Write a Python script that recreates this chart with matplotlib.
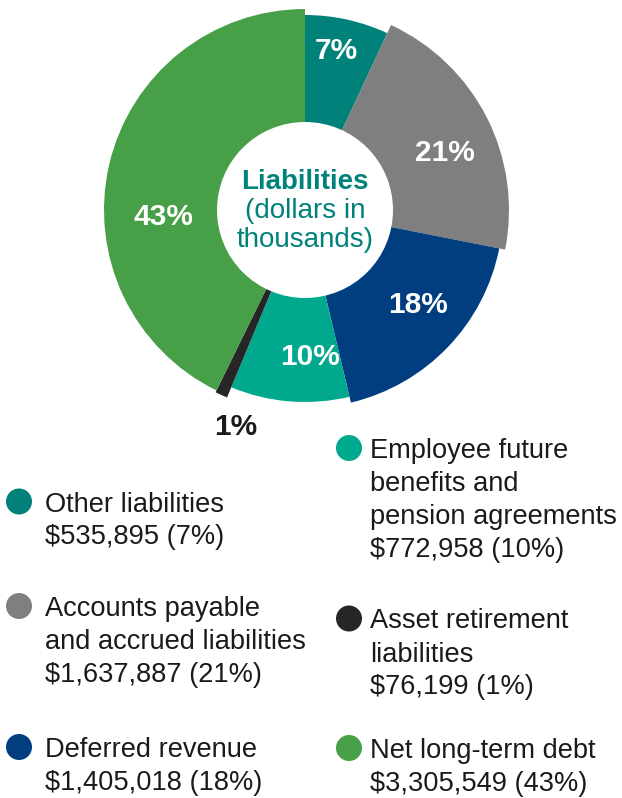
import math
import matplotlib
matplotlib.use("Agg")
import matplotlib.pyplot as plt
from matplotlib.patches import Wedge, Circle

# ---- data (dollars in thousands) ----
categories = [
    "Other liabilities",
    "Accounts payable and accrued liabilities",
    "Deferred revenue",
    "Employee future benefits and pension agreements",
    "Asset retirement liabilities",
    "Net long-term debt",
]
amounts = [535895, 1637887, 1405018, 772958, 76199, 3305549]

# legend text, split into display lines (the amount line is added below)
legend_lines = [
    ["Other liabilities"],
    ["Accounts payable", "and accrued liabilities"],
    ["Deferred revenue"],
    ["Employee future", "benefits and", "pension agreements"],
    ["Asset retirement", "liabilities"],
    ["Net long-term debt"],
]

# ---- style ----
colors = ["#00827A", "#7F7F7F", "#003E80", "#00A88D", "#262626", "#47A047"]
outer_r = [195, 204, 198, 192, 203, 201]        # each slice has its own reach
label_r = [162, 151, 148, 147, 228, 142]
label_shift = [-1.5, 4.8, -3.9, -6.6, -6.6, -15.9]
label_color = ["white", "white", "white", "white", "#1a1a1a", "white"]

W, H = 622, 798
cx, cy = 305, 210
hole_r = 88
font = "Liberation Sans"

fig = plt.figure(figsize=(W / 100, H / 100), dpi=100)
ax = fig.add_axes([0, 0, 1, 1])
ax.set_xlim(0, W)
ax.set_ylim(H, 0)
ax.set_aspect("equal")
ax.axis("off")

total = sum(amounts)
shares = [a / total for a in amounts]
pcts = [round(s * 100) for s in shares]

# slices run clockwise from 12 o'clock (y axis points down)
start = -90.0
for i, s in enumerate(shares):
    span = s * 360.0
    ax.add_patch(Wedge((cx, cy), outer_r[i], start, start + span,
                       facecolor=colors[i], edgecolor="none", zorder=2))
    ang = math.radians(start + span / 2 + label_shift[i])
    lx = cx + label_r[i] * math.cos(ang)
    ly = cy + label_r[i] * math.sin(ang)
    ax.text(lx, ly, f"{pcts[i]}%", color=label_color[i], fontsize=21.5,
            fontweight="bold", family=font,
            ha="center", va="center", zorder=4)
    start += span

ax.add_patch(Circle((cx, cy), hole_r, facecolor="white", edgecolor="none", zorder=3))

center_col = "#00827A"
ax.text(cx, 189, "Liabilities", color=center_col, fontsize=20, fontweight="bold",
        family=font, ha="center", va="baseline", zorder=4)
ax.text(cx, 218, "(dollars in", color=center_col, fontsize=20,
        family=font, ha="center", va="baseline", zorder=4)
ax.text(cx, 247, "thousands)", color=center_col, fontsize=20,
        family=font, ha="center", va="baseline", zorder=4)

# ---- legend: two columns, three entries each ----
col_marker_x = [19, 349]
col_text_x = [45, 370]
first_baselines = [511.5, 616, 757, 458, 628.5, 758]
line_gap = 33

for i in range(len(categories)):
    col = 0 if i < 3 else 1
    y0 = first_baselines[i]
    ax.add_patch(Circle((col_marker_x[col], y0 - 10), 13,
                        facecolor=colors[i], edgecolor="none", zorder=2))
    lines = legend_lines[i] + [f"${amounts[i]:,} ({pcts[i]}%)"]
    for k, t in enumerate(lines):
        ax.text(col_text_x[col], y0 + k * line_gap, t, color="#1a1a1a",
                fontsize=19.6, family=font, ha="left", va="baseline", zorder=4)

fig.savefig("out.png", dpi=100, facecolor="white")
